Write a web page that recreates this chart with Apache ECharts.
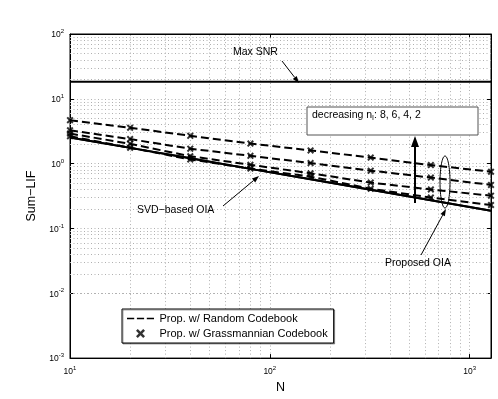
<!DOCTYPE html>
<html>
<head>
<meta charset="utf-8">
<script src="https://cdn.jsdelivr.net/npm/echarts@6/dist/echarts.min.js"></script>
<style>
  html, body { margin: 0; padding: 0; background: #fff; }
  #chart { width: 498px; height: 399px; }
</style>
</head>
<body>
<div id="chart"></div>
<script>
// x values (N) and measured Sum-LIF values
var N = [10, 20, 40, 80, 160, 320, 640, 1280];
var maxSNR = [18.3, 18.3, 18.3, 18.3, 18.3, 18.3, 18.3, 18.3];
var proposedOIA = [2.53, 1.75, 1.21, 0.83, 0.574, 0.395, 0.273, 0.188];
var svdOIA = [2.53, 1.75, 1.21, 0.83, 0.574, 0.395, 0.273, 0.188];
var nI8 = [4.68, 3.58, 2.69, 2.04, 1.60, 1.24, 0.95, 0.75];
var nI6 = [3.27, 2.39, 1.70, 1.32, 1.02, 0.78, 0.61, 0.47];
var nI4 = [2.91, 2.02, 1.30, 0.96, 0.71, 0.51, 0.40, 0.32];
var nI2 = [2.65, 1.76, 1.16, 0.84, 0.63, 0.41, 0.30, 0.23];

// minor grid positions
var xMinor = [20, 30, 40, 50, 60, 70, 80, 90, 200, 300, 400, 500, 600, 700, 800, 900];
var yMinor = [];
[0.001, 0.01, 0.1, 1, 10].forEach(function (d) {
  for (var k = 2; k <= 9; k++) yMinor.push(d * k);
});

function pairs(ys) {
  return N.map(function (n, i) { return [n, ys[i]]; });
}

var xMark = 'path://M2,0 L5,3 L8,0 L10,2 L7,5 L10,8 L8,10 L5,7 L2,10 L0,8 L3,5 L0,2 Z';
// dashed sample for the legend (tiny corner specks keep the box size)
var dashIcon = 'path://M0,0 L0.1,0 L0.1,0.1 Z M0,4.2 L8,4.2 L8,5.8 L0,5.8 Z M11,4.2 L19,4.2 L19,5.8 L11,5.8 Z M22,4.2 L30,4.2 L30,5.8 L22,5.8 Z M29.9,9.9 L30,10 L29.9,10 Z';

function powLabel(v) {
  var e = Math.log10(v);
  if (Math.abs(e - Math.round(e)) > 1e-6) return '';
  return '{b|10}{s|' + Math.round(e) + '}';
}
var powRich = {
  b: { fontSize: 8.5, color: '#000', fontFamily: 'Liberation Sans', verticalAlign: 'bottom' },
  s: { fontSize: 6, color: '#000', fontFamily: 'Liberation Sans', verticalAlign: 'bottom', padding: [0, 0, 5, 0] }
};

var dotted = { color: '#b0b0b0', type: [1, 2.5], width: 1 };

function arrow(x1, y1, x2, y2, w, hl, hw) {
  var dx = x2 - x1, dy = y2 - y1;
  var len = Math.sqrt(dx * dx + dy * dy);
  var ux = dx / len, uy = dy / len;
  var bx = x2 - ux * hl, by = y2 - uy * hl;
  return [
    { type: 'line', shape: { x1: x1, y1: y1, x2: bx, y2: by }, style: { stroke: '#000', lineWidth: w }, z: 100 },
    { type: 'polygon', shape: { points: [[x2, y2], [bx - uy * hw, by + ux * hw], [bx + uy * hw, by - ux * hw]] }, style: { fill: '#000' }, z: 100 }
  ];
}

var txt = { fill: '#000', fontSize: 10.5, fontFamily: 'Liberation Sans' };

var graphics = []
  .concat(arrow(282, 61, 299, 83, 1, 7, 2.5))
  .concat(arrow(223, 206, 259, 176, 1, 7, 2.5))
  .concat(arrow(421, 255, 446, 209, 1, 7, 2.5))
  .concat(arrow(415, 203, 415, 136, 2, 11, 4))
  .concat([
    { type: 'text', left: 233, top: 47, style: Object.assign({ text: 'Max SNR' }, txt), z: 100 },
    { type: 'text', left: 137, top: 205, style: Object.assign({ text: 'SVD\u2212based OIA' }, txt), z: 100 },
    { type: 'text', left: 385, top: 258, style: Object.assign({ text: 'Proposed OIA' }, txt), z: 100 },
    { type: 'rect', shape: { x: 307, y: 107, width: 171, height: 28 }, style: { fill: '#fff', stroke: '#555', lineWidth: 1 }, z: 99 },
    {
      type: 'text', left: 312, top: 110, z: 100,
      style: {
        text: 'decreasing n{sub|I}: 8, 6, 4, 2',
        fill: '#000', fontSize: 10.5, fontFamily: 'Liberation Sans',
        rich: { sub: { fontSize: 7, fontFamily: 'Liberation Sans', fill: '#000', padding: [6, 0, 0, 0] } }
      }
    },
    { type: 'ellipse', shape: { cx: 445, cy: 182, rx: 5, ry: 26 }, style: { fill: 'none', stroke: '#000', lineWidth: 1 }, z: 100 }
  ]);

var chart = echarts.init(document.getElementById('chart'));

var series = [
  {
    name: 'grid', type: 'line', data: [], silent: true,
    markLine: {
      silent: true, symbol: 'none', z: 1, label: { show: false },
      lineStyle: dotted, emphasis: { disabled: true },
      data: xMinor.map(function (v) { return { xAxis: v }; })
        .concat(yMinor.map(function (v) { return { yAxis: v }; }))
    }
  },
  {
    name: 'Max SNR', type: 'line', data: pairs(maxSNR), symbol: 'none', z: 5,
    lineStyle: { color: '#000', width: 2 }
  },
  {
    name: 'SVD-based OIA', type: 'line', data: pairs(svdOIA), symbol: 'none', z: 5,
    lineStyle: { color: '#000', width: 2 }
  },
  {
    name: 'Proposed OIA', type: 'line', data: pairs(proposedOIA), symbol: 'none', z: 5,
    lineStyle: { color: '#000', width: 2 }
  }
];

[nI8, nI6, nI4, nI2].forEach(function (ys) {
  series.push({
    name: 'Prop. w/ Random Codebook', type: 'line', data: pairs(ys), symbol: 'none', z: 5,
    itemStyle: { color: '#000' },
    lineStyle: { color: '#000', width: 2, type: [8, 4] }
  });
});
[nI8, nI6, nI4, nI2].forEach(function (ys) {
  series.push({
    name: 'Prop. w/ Grassmannian Codebook', type: 'scatter', data: pairs(ys),
    symbol: xMark, symbolSize: 7, z: 6,
    itemStyle: { color: '#000' }
  });
});

chart.setOption({
  animation: false,
  backgroundColor: '#fff',
  grid: { left: 70, right: 7, top: 34, bottom: 33, show: true, borderColor: '#000', borderWidth: 1, backgroundColor: 'transparent' },
  legend: {
    data: [
      { name: 'Prop. w/ Random Codebook', icon: dashIcon },
      { name: 'Prop. w/ Grassmannian Codebook', icon: xMark }
    ],
    orient: 'vertical', left: 122, top: 309,
    itemWidth: 28, itemHeight: 9, itemGap: 4, padding: [4, 6, 4, 5],
    backgroundColor: '#fff', borderColor: '#000', borderWidth: 1,
    shadowColor: 'rgba(0,0,0,0.35)', shadowOffsetX: 1, shadowOffsetY: 1, shadowBlur: 0,
    textStyle: { fontSize: 11, fontFamily: 'Liberation Sans', color: '#000' },
    selectedMode: false
  },
  xAxis: [
    {
      type: 'log', logBase: 10, min: 10, max: 1280,
      name: 'N', nameLocation: 'middle', nameGap: 22,
      nameTextStyle: { fontSize: 12.5, fontFamily: 'Liberation Sans', color: '#000' },
      axisLine: { lineStyle: { color: '#000' } },
      axisTick: { inside: true, length: 4, lineStyle: { color: '#000' } },
      axisLabel: { formatter: powLabel, rich: powRich, margin: 7, showMaxLabel: false },
      splitLine: { show: true, lineStyle: dotted }
    },
    {
      type: 'log', logBase: 10, min: 10, max: 1280, position: 'top',
      axisLine: { lineStyle: { color: '#000' } },
      axisTick: { inside: true, length: 4, lineStyle: { color: '#000' } },
      axisLabel: { show: false }, splitLine: { show: false }
    }
  ],
  yAxis: [
    {
      type: 'log', logBase: 10, min: 0.001, max: 100,
      name: 'Sum\u2212LIF', nameLocation: 'middle', nameGap: 23,
      nameTextStyle: { fontSize: 12.5, fontFamily: 'Liberation Sans', color: '#000' },
      axisLine: { lineStyle: { color: '#000' } },
      axisTick: { inside: true, length: 4, lineStyle: { color: '#000' } },
      axisLabel: { formatter: powLabel, rich: powRich, margin: 6 },
      splitLine: { show: true, lineStyle: dotted }
    },
    {
      type: 'log', logBase: 10, min: 0.001, max: 100, position: 'right',
      axisLine: { lineStyle: { color: '#000' } },
      axisTick: { inside: true, length: 4, lineStyle: { color: '#000' } },
      axisLabel: { show: false }, splitLine: { show: false }
    }
  ],
  series: series,
  graphic: graphics
});
</script>
</body>
</html>
